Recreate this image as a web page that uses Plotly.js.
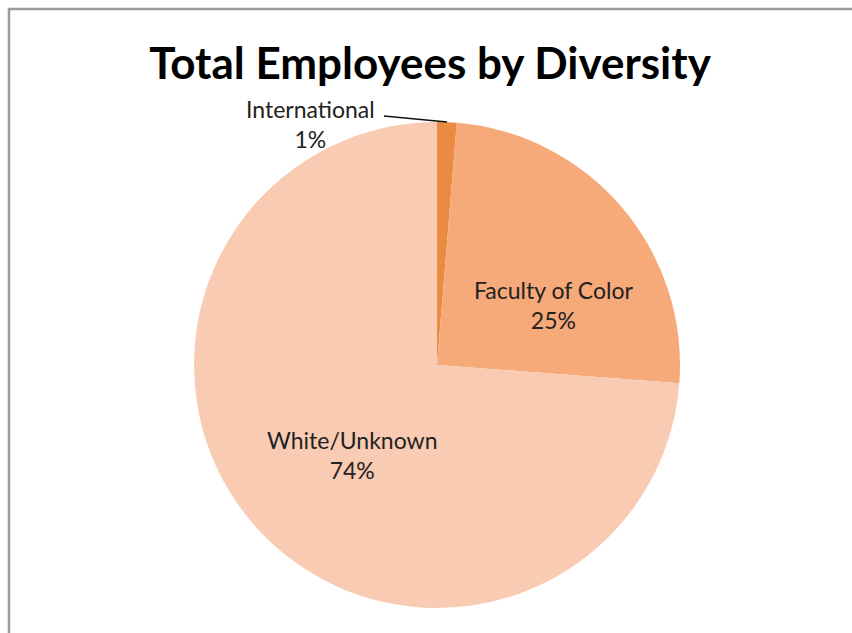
<!DOCTYPE html>
<html>
<head>
<meta charset="utf-8">
<script src="https://cdn.plot.ly/plotly-3.0.1.min.js"></script>
<style>
html,body{margin:0;padding:0;background:#fff;}
#chart{width:852px;height:633px;}
</style>
</head>
<body>
<div id="chart"></div>
<script>
const categories = ["International", "Faculty of Color", "White/Unknown"];
const shares = [1.3, 24.9, 73.8];
const sliceColors = ["#E98B40", "#F6A979", "#F9CBB3"];

const W = 852, H = 633;
const total = shares.reduce((a, b) => a + b, 0);
const pct = shares.map(v => Math.round(v / total * 100) + "%");

const labelFont = {family: "Lato, 'Open Sans', sans-serif", size: 23, color: "#222"};
const px = (x) => x / W, py = (y) => 1 - y / H;

const trace = {
  type: "pie",
  labels: categories,
  values: shares,
  sort: false,
  direction: "clockwise",
  rotation: 0,
  marker: {colors: sliceColors, line: {width: 0}},
  textinfo: "none",
  hoverinfo: "label+percent",
  showlegend: false,
  domain: {x: [px(194), px(680)], y: [py(608), py(122)]}
};

function lbl(i, x, y) {
  return {text: categories[i] + "<br>" + pct[i], x: px(x), y: py(y), xref: "paper", yref: "paper",
          xanchor: "center", yanchor: "middle", showarrow: false, font: labelFont, align: "center"};
}

const layout = {
  width: W, height: H,
  margin: {l: 0, r: 0, t: 0, b: 0},
  paper_bgcolor: "#fff",
  title: {
    text: "<b>Total Employees by Diversity</b>",
    font: {family: "Lato, 'Open Sans', sans-serif", size: 44, color: "#000"},
    x: px(430), xanchor: "center", xref: "paper",
    y: py(64), yanchor: "middle", yref: "container"
  },
  annotations: [lbl(0, 310, 124), lbl(1, 553, 305), lbl(2, 352, 455)],
  shapes: [
    {type: "line", xref: "paper", yref: "paper", x0: px(8), x1: 1, y0: py(9), y1: py(9),
     line: {color: "#9a9a9a", width: 2.5}},
    {type: "line", xref: "paper", yref: "paper", x0: px(9), x1: px(9), y0: py(8), y1: 0,
     line: {color: "#9a9a9a", width: 2.5}},
    {type: "line", xref: "paper", yref: "paper", x0: px(384), x1: px(447), y0: py(116), y1: py(122),
     line: {color: "#111", width: 1.5}}
  ]
};

Plotly.newPlot("chart", [trace], layout, {displayModeBar: false, staticPlot: true});
</script>
</body>
</html>
